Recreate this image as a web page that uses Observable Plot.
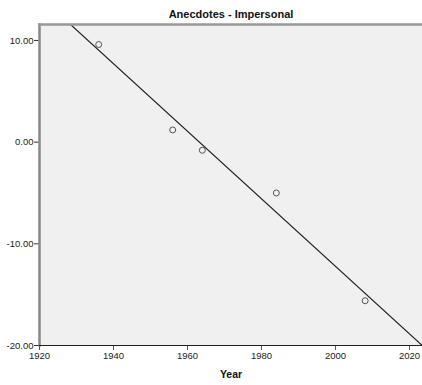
<!DOCTYPE html>
<html><head><meta charset="utf-8">
<script src="https://cdn.jsdelivr.net/npm/d3@7"></script>
<script src="https://cdn.jsdelivr.net/npm/@observablehq/plot@0.6"></script>
<style>body{margin:0;background:#fff}</style>
</head><body><div id="chart"></div>
<script>
const title = "Anecdotes - Impersonal";
const xLabel = "Year";
const years = [1936, 1956, 1964, 1984, 2008];
const values = [9.6, 1.2, -0.8, -5.0, -15.6];
const xTicks = [1920, 1940, 1960, 1980, 2000, 2020];
const yTicks = [-20, -10, 0, 10];
const xDomain = [1920, 2023.5];
const yDomain = [-20, 11.57];

const data = years.map((y, i) => ({year: y, value: values[i]}));
const mx = d3.mean(years), my = d3.mean(values);
const slope = d3.sum(data, d => (d.year - mx) * (d.value - my)) / d3.sum(data, d => (d.year - mx) ** 2);
const intercept = my - slope * mx;
const fitLine = xDomain.map(x => ({year: x, value: intercept + slope * x}));

const font = "Liberation Sans, Arial, sans-serif";
const chart = Plot.plot({
  width: 422, height: 385,
  marginLeft: 39, marginRight: 0, marginTop: 24, marginBottom: 40,
  style: {fontFamily: font, fontSize: "9.5px", color: "#222", background: "#fff"},
  x: {domain: xDomain, ticks: xTicks, tickFormat: d => String(d), tickSize: 5, label: null},
  y: {domain: yDomain, ticks: yTicks, tickFormat: d => d.toFixed(2), tickSize: 5, label: null},
  marks: [
    Plot.frame({fill: "#f0f0f0", stroke: null}),
    Plot.line(fitLine, {x: "year", y: "value", stroke: "#222", strokeWidth: 1.2, clip: true}),
    Plot.dot(data, {x: "year", y: "value", r: 3, stroke: "#555", strokeWidth: 1, fill: "none"}),
    Plot.axisX({ticks: xTicks, tickFormat: d => String(d), tickSize: 5, tickPadding: 2, stroke: "#555", label: null}),
    Plot.axisY({ticks: yTicks, tickFormat: d => d.toFixed(2), tickSize: 5, tickPadding: 1, stroke: "#333", label: null}),
    Plot.frame({anchor: "left", stroke: "#888", strokeWidth: 2.5}),
    Plot.frame({anchor: "top", stroke: "#999", strokeWidth: 2.5}),
    Plot.frame({anchor: "bottom", stroke: "#222", strokeWidth: 1.2}),
    Plot.text([title], {frameAnchor: "top", dy: -14, fontWeight: "bold", fontSize: 11, fill: "#111"}),
    Plot.text([xLabel], {frameAnchor: "bottom", dy: 32, fontWeight: "bold", fontSize: 10.5, fill: "#111"})
  ]
});
document.getElementById("chart").appendChild(chart);
</script>
</body></html>
